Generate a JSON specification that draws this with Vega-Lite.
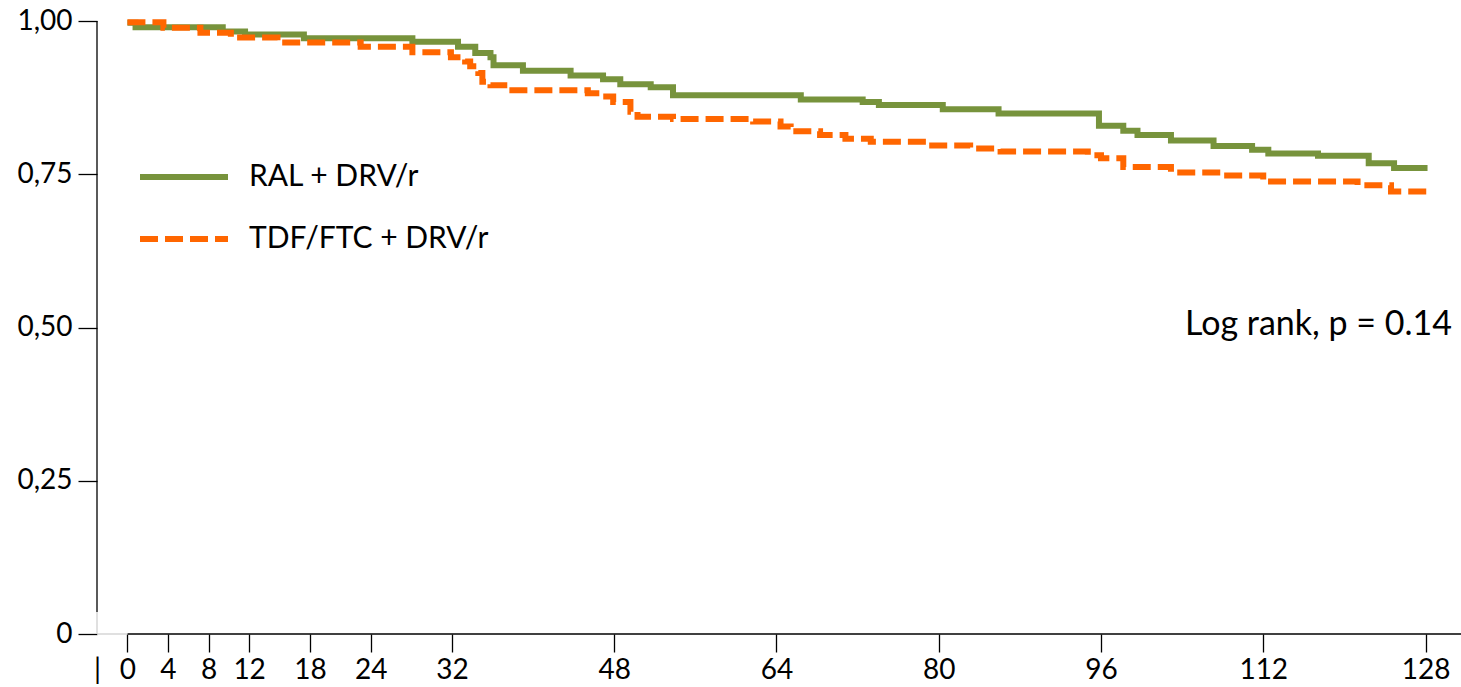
{
  "$schema": "https://vega.github.io/schema/vega-lite/v6.json",
  "width": 1364,
  "height": 613,
  "autosize": {"type": "none"},
  "padding": {"left": 97, "top": 21, "right": 0, "bottom": 53},
  "background": "white",
  "config": {"view": {"stroke": null}, "font": "Lato"},
  "datasets": {
    "km": [
      {"arm": "RAL + DRV/r", "week": 0, "survival": 0.997},
      {"arm": "RAL + DRV/r", "week": 0.8, "survival": 0.990},
      {"arm": "RAL + DRV/r", "week": 9.4, "survival": 0.983},
      {"arm": "RAL + DRV/r", "week": 11.6, "survival": 0.978},
      {"arm": "RAL + DRV/r", "week": 17.4, "survival": 0.972},
      {"arm": "RAL + DRV/r", "week": 28.1, "survival": 0.966},
      {"arm": "RAL + DRV/r", "week": 32.6, "survival": 0.958},
      {"arm": "RAL + DRV/r", "week": 34.3, "survival": 0.948},
      {"arm": "RAL + DRV/r", "week": 35.8, "survival": 0.941},
      {"arm": "RAL + DRV/r", "week": 36.1, "survival": 0.928},
      {"arm": "RAL + DRV/r", "week": 39.0, "survival": 0.919},
      {"arm": "RAL + DRV/r", "week": 43.7, "survival": 0.911},
      {"arm": "RAL + DRV/r", "week": 46.9, "survival": 0.905},
      {"arm": "RAL + DRV/r", "week": 48.6, "survival": 0.897},
      {"arm": "RAL + DRV/r", "week": 51.6, "survival": 0.892},
      {"arm": "RAL + DRV/r", "week": 53.8, "survival": 0.879},
      {"arm": "RAL + DRV/r", "week": 66.4, "survival": 0.872},
      {"arm": "RAL + DRV/r", "week": 72.5, "survival": 0.868},
      {"arm": "RAL + DRV/r", "week": 74.1, "survival": 0.863},
      {"arm": "RAL + DRV/r", "week": 80.4, "survival": 0.856},
      {"arm": "RAL + DRV/r", "week": 85.9, "survival": 0.849},
      {"arm": "RAL + DRV/r", "week": 95.8, "survival": 0.829},
      {"arm": "RAL + DRV/r", "week": 98.2, "survival": 0.821},
      {"arm": "RAL + DRV/r", "week": 99.6, "survival": 0.814},
      {"arm": "RAL + DRV/r", "week": 102.9, "survival": 0.805},
      {"arm": "RAL + DRV/r", "week": 107.1, "survival": 0.796},
      {"arm": "RAL + DRV/r", "week": 110.9, "survival": 0.790},
      {"arm": "RAL + DRV/r", "week": 112.5, "survival": 0.784},
      {"arm": "RAL + DRV/r", "week": 117.4, "survival": 0.780},
      {"arm": "RAL + DRV/r", "week": 122.4, "survival": 0.768},
      {"arm": "RAL + DRV/r", "week": 124.9, "survival": 0.760},
      {"arm": "RAL + DRV/r", "week": 128.2, "survival": 0.760},
      {"arm": "TDF/FTC + DRV/r", "week": 0, "survival": 0.998},
      {"arm": "TDF/FTC + DRV/r", "week": 3.55, "survival": 0.989},
      {"arm": "TDF/FTC + DRV/r", "week": 7.2, "survival": 0.981},
      {"arm": "TDF/FTC + DRV/r", "week": 10.2, "survival": 0.973},
      {"arm": "TDF/FTC + DRV/r", "week": 14.8, "survival": 0.965},
      {"arm": "TDF/FTC + DRV/r", "week": 23.0, "survival": 0.958},
      {"arm": "TDF/FTC + DRV/r", "week": 28.1, "survival": 0.949},
      {"arm": "TDF/FTC + DRV/r", "week": 31.9, "survival": 0.941},
      {"arm": "TDF/FTC + DRV/r", "week": 33.3, "survival": 0.934},
      {"arm": "TDF/FTC + DRV/r", "week": 33.8, "survival": 0.926},
      {"arm": "TDF/FTC + DRV/r", "week": 34.6, "survival": 0.915},
      {"arm": "TDF/FTC + DRV/r", "week": 35.0, "survival": 0.901},
      {"arm": "TDF/FTC + DRV/r", "week": 35.8, "survival": 0.895},
      {"arm": "TDF/FTC + DRV/r", "week": 37.5, "survival": 0.887},
      {"arm": "TDF/FTC + DRV/r", "week": 45.4, "survival": 0.882},
      {"arm": "TDF/FTC + DRV/r", "week": 46.7, "survival": 0.877},
      {"arm": "TDF/FTC + DRV/r", "week": 47.9, "survival": 0.868},
      {"arm": "TDF/FTC + DRV/r", "week": 49.6, "survival": 0.852},
      {"arm": "TDF/FTC + DRV/r", "week": 50.3, "survival": 0.844},
      {"arm": "TDF/FTC + DRV/r", "week": 53.8, "survival": 0.840},
      {"arm": "TDF/FTC + DRV/r", "week": 61.7, "survival": 0.836},
      {"arm": "TDF/FTC + DRV/r", "week": 64.4, "survival": 0.828},
      {"arm": "TDF/FTC + DRV/r", "week": 65.4, "survival": 0.820},
      {"arm": "TDF/FTC + DRV/r", "week": 68.3, "survival": 0.814},
      {"arm": "TDF/FTC + DRV/r", "week": 70.8, "survival": 0.808},
      {"arm": "TDF/FTC + DRV/r", "week": 73.3, "survival": 0.803},
      {"arm": "TDF/FTC + DRV/r", "week": 78.9, "survival": 0.797},
      {"arm": "TDF/FTC + DRV/r", "week": 83.1, "survival": 0.792},
      {"arm": "TDF/FTC + DRV/r", "week": 86.1, "survival": 0.787},
      {"arm": "TDF/FTC + DRV/r", "week": 94.7, "survival": 0.781},
      {"arm": "TDF/FTC + DRV/r", "week": 96.0, "survival": 0.776},
      {"arm": "TDF/FTC + DRV/r", "week": 98.2, "survival": 0.762},
      {"arm": "TDF/FTC + DRV/r", "week": 102.9, "survival": 0.753},
      {"arm": "TDF/FTC + DRV/r", "week": 108.1, "survival": 0.748},
      {"arm": "TDF/FTC + DRV/r", "week": 112.0, "survival": 0.738},
      {"arm": "TDF/FTC + DRV/r", "week": 121.3, "survival": 0.732},
      {"arm": "TDF/FTC + DRV/r", "week": 124.6, "survival": 0.722},
      {"arm": "TDF/FTC + DRV/r", "week": 128.2, "survival": 0.722}
    ]
  },
  "layer": [
    {
      "data": {"name": "km"},
      "mark": {"type": "line", "interpolate": "step-after", "strokeWidth": 6, "strokeCap": "butt"},
      "encoding": {
        "x": {
          "field": "week", "type": "quantitative",
          "scale": {"domain": [-3, 131.5], "nice": false, "zero": false},
          "axis": {
            "values": [-3, 0, 4, 8, 12, 18, 24, 32, 48, 64, 80, 96, 112, 128],
            "labelExpr": "datum.value < 0 ? '|' : datum.label",
            "tickOpacity": {"condition": {"test": "datum.value < 0", "value": 0}, "value": 1},
            "domain": false, "grid": false, "title": null,
            "tickSize": 18, "tickColor": "black", "tickWidth": 1.3,
            "labelFontSize": 28, "labelFont": "Lato", "labelColor": "black",
            "labelPadding": 4, "labelFlush": false, "labelOverlap": false, "labelBound": false
          }
        },
        "y": {
          "field": "survival", "type": "quantitative",
          "scale": {"domain": [0, 1], "nice": false},
          "axis": {
            "values": [0, 0.25, 0.5, 0.75, 1],
            "labelExpr": "datum.value == 0 ? '0' : replace(format(datum.value, '.2f'), '.', ',')",
            "domain": false, "grid": false, "title": null,
            "tickSize": 19, "tickColor": "black", "tickWidth": 1.3,
            "labelFontSize": 28, "labelFont": "Lato", "labelColor": "black",
            "labelPadding": 6, "labelFlush": false, "labelOverlap": false, "labelBound": false
          }
        },
        "color": {
          "field": "arm", "type": "nominal",
          "scale": {"domain": ["RAL + DRV/r", "TDF/FTC + DRV/r"], "range": ["#77933C", "#FF6600"]},
          "legend": {
            "orient": "none", "legendX": 40, "legendY": 109, "title": null,
            "symbolType": "stroke", "symbolSize": 7744, "symbolStrokeWidth": 6,
            "labelFontSize": 30, "labelFont": "Lato", "labelColor": "black", "labelLimit": 500,
            "labelOffset": 18, "rowPadding": -15
          }
        },
        "strokeDash": {
          "field": "arm", "type": "nominal",
          "scale": {"domain": ["RAL + DRV/r", "TDF/FTC + DRV/r"], "range": [[1, 0], [18, 7]]},
          "legend": {
            "orient": "none", "legendX": 40, "legendY": 109, "title": null,
            "symbolType": "stroke", "symbolSize": 7744, "symbolStrokeWidth": 6,
            "labelFontSize": 30, "labelFont": "Lato", "labelColor": "black", "labelLimit": 500,
            "labelOffset": 18, "rowPadding": -15
          }
        }
      }
    },
    {
      "data": {"values": [{}]},
      "mark": {"type": "rule", "color": "black", "strokeWidth": 1.3},
      "encoding": {"x": {"datum": 0, "type": "quantitative"}, "x2": {"datum": 131.5}, "y": {"datum": 0, "type": "quantitative"}}
    },
    {
      "data": {"values": [{}]},
      "mark": {"type": "rule", "color": "#d0d0d0", "strokeWidth": 1.3},
      "encoding": {"x": {"datum": -3, "type": "quantitative"}, "x2": {"datum": 0}, "y": {"datum": 0, "type": "quantitative"}}
    },
    {
      "data": {"values": [{}]},
      "mark": {"type": "rule", "color": "black", "strokeWidth": 1.3},
      "encoding": {"x": {"datum": -3, "type": "quantitative"}, "y": {"datum": 0.036, "type": "quantitative"}, "y2": {"datum": 1}}
    },
    {
      "data": {"values": [{}]},
      "mark": {"type": "rule", "color": "#d0d0d0", "strokeWidth": 1.3},
      "encoding": {"x": {"datum": -3, "type": "quantitative"}, "y": {"datum": 0, "type": "quantitative"}, "y2": {"datum": 0.036}}
    },
    {
      "data": {"values": [{}]},
      "mark": {"type": "text", "align": "right", "baseline": "middle", "fontSize": 34, "font": "Lato", "color": "black"},
      "encoding": {"x": {"datum": 130.6, "type": "quantitative"}, "y": {"datum": 0.504, "type": "quantitative"}, "text": {"value": "Log rank, p = 0.14"}}
    }
  ]
}
